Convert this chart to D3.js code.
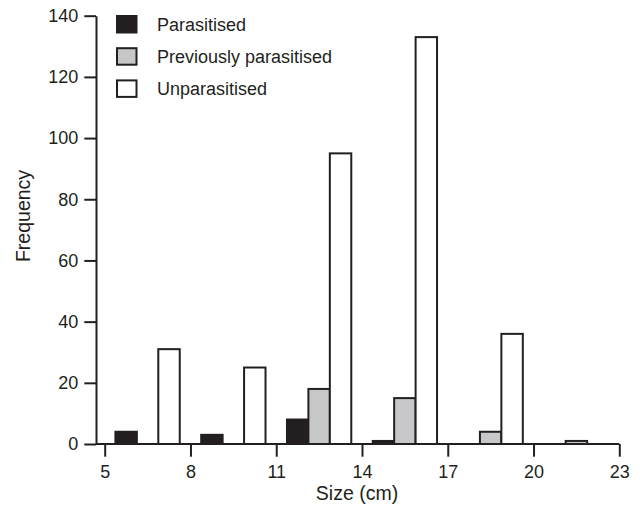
<!DOCTYPE html>
<html>
<head>
<meta charset="utf-8">
<script src="https://cdn.jsdelivr.net/npm/d3@7"></script>
<style>
  body { margin: 0; background: #fff; }
  svg text { font-family: "Liberation Sans", Arial, Helvetica, sans-serif; fill: #231f20; }
</style>
</head>
<body>
<svg width="640" height="507"></svg>
<script>
// size classes (cm), each bin 3 cm wide
const binStarts = [5, 8, 11, 14, 17, 20];
const seriesNames = ["Parasitised", "Previously parasitised", "Unparasitised"];
const parasitised = [4, 3, 8, 1, 0, 0];
const previouslyParasitised = [0, 0, 18, 15, 4, 1];
const unparasitised = [31, 25, 95, 133, 36, 0];
const xTicks = [5, 8, 11, 14, 17, 20, 23];
const yTicks = [0, 20, 40, 60, 80, 100, 120, 140];

const ink = "#231f20";
const fills = [ink, "#c6c7c8", "#ffffff"];
const seriesValues = [parasitised, previouslyParasitised, unparasitised];

const svg = d3.select("svg");

const x = d3.scaleLinear().domain([5, 23]).range([104.7, 619.3]);
const y = d3.scaleLinear().domain([0, 140]).range([444, 15.7]);
const barW = 0.75; // in cm

// bars
seriesValues.forEach((vals, j) => {
  svg.append("g")
    .selectAll("rect")
    .data(vals)
    .enter()
    .append("rect")
    .attr("x", (d, i) => x(binStarts[i] + 0.375 + j * barW))
    .attr("width", x(5 + barW) - x(5))
    .attr("y", (d) => y(d))
    .attr("height", (d) => y(0) - y(d))
    .attr("fill", fills[j])
    .attr("stroke", ink)
    .attr("stroke-width", 2);
});

// y axis
const yAxis = svg.append("g")
  .attr("transform", "translate(96,0)")
  .call(d3.axisLeft(y).tickValues(yTicks).tickSize(11.7).tickSizeOuter(0).tickPadding(6));
yAxis.select(".domain").attr("stroke", ink).attr("stroke-width", 2);
yAxis.selectAll(".tick line").attr("stroke", ink).attr("stroke-width", 2);
yAxis.selectAll("text").attr("font-size", 18).attr("fill", ink);

// x axis
const xAxis = svg.append("g")
  .attr("transform", "translate(0,444)")
  .call(d3.axisBottom(x).tickValues(xTicks).tickSize(12.7).tickSizeOuter(0).tickPadding(9));
xAxis.select(".domain").remove();
xAxis.selectAll(".tick line").attr("stroke", ink).attr("stroke-width", 2);
xAxis.selectAll("text").attr("font-size", 18).attr("fill", ink);

svg.append("line")
  .attr("x1", 96).attr("x2", x(23))
  .attr("y1", y(0)).attr("y2", y(0))
  .attr("stroke", ink).attr("stroke-width", 2);

// axis titles
svg.append("text")
  .attr("x", 357).attr("y", 500)
  .attr("text-anchor", "middle")
  .attr("font-size", 19.5)
  .text("Size (cm)");

svg.append("text")
  .attr("transform", "translate(30,216) rotate(-90)")
  .attr("text-anchor", "middle")
  .attr("font-size", 19.5)
  .text("Frequency");

// legend
const legend = svg.append("g")
  .selectAll("g")
  .data(seriesNames)
  .enter()
  .append("g")
  .attr("transform", (d, i) => `translate(117,${16 + i * 32.2})`);

legend.append("rect")
  .attr("width", 19.5).attr("height", 16.5)
  .attr("fill", (d, i) => fills[i])
  .attr("stroke", ink).attr("stroke-width", 2);

legend.append("text")
  .attr("x", 40).attr("y", 8.5)
  .attr("dy", "0.35em")
  .attr("font-size", 18)
  .text((d) => d);
</script>
</body>
</html>
